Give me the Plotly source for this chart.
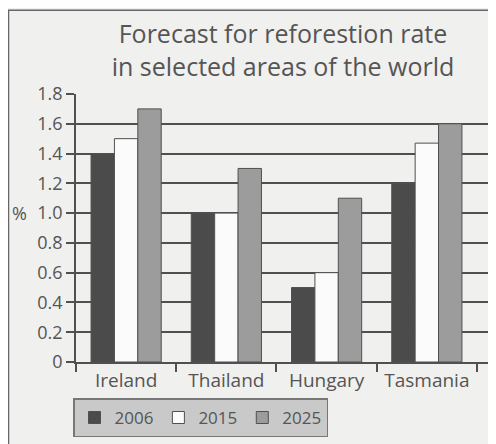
import plotly.graph_objects as go

categories = ["Ireland", "Thailand", "Hungary", "Tasmania"]
years = ["2006", "2015", "2025"]
values_2006 = [1.4, 1.0, 0.5, 1.2]
values_2015 = [1.5, 1.0, 0.6, 1.47]
values_2025 = [1.7, 1.3, 1.1, 1.6]
y_ticks = [0, 0.2, 0.4, 0.6, 0.8, 1.0, 1.2, 1.4, 1.6, 1.8]
y_tick_text = ["0", "0.2", "0.4", "0.6", "0.8", "1.0", "1.2", "1.4", "1.6", "1.8"]
y_unit = "%"

series = [values_2006, values_2015, values_2025]
colors = ["#4b4b4b", "#fbfbfb", "#9c9c9c"]
line_col = "#505050"
text_col = "#555555"
FONT = "Open Sans, Liberation Sans, Arial, sans-serif"

# page body has an 8px margin, so the figure is drawn 8px in from the window edge
W, H = 488, 436
L, R, T, B = 68, 6, 86, 78
PW, PH = W - L - R, H - T - B


def px(x):
    return (x - 8 - L) / PW


def py(y):
    return (H - B - (y - 8)) / PH


fig = go.Figure()
for name, vals, col in zip(years, series, colors):
    fig.add_trace(go.Bar(
        x=categories, y=vals, name=name,
        marker=dict(color=col, line=dict(color=line_col, width=1)),
    ))

fig.update_layout(
    width=W, height=H,
    margin=dict(l=L, r=R, t=T, b=B),
    paper_bgcolor="#f0f0ef",
    plot_bgcolor="rgba(0,0,0,0)",
    barmode="group", bargap=0.3, bargroupgap=0,
    font=dict(family=FONT, color=text_col, size=16),
    title=dict(
        text="Forecast for reforestion rate<br>in selected areas of the world",
        x=(283 - 8) / W, xanchor="center", y=1 - 35 / H, yanchor="top",
        font=dict(size=25, color=text_col, family=FONT),
    ),
    xaxis=dict(
        type="category", range=[-0.5, 3.63],
        tickson="boundaries", ticks="outside", ticklen=8, tickwidth=1.5, tickcolor=line_col,
        showline=True, linecolor=line_col, linewidth=1.5,
        showgrid=False, tickfont=dict(size=19, color=text_col, family=FONT),
    ),
    yaxis=dict(
        range=[0, 1.8], tickvals=y_ticks, ticktext=y_tick_text,
        ticks="outside", ticklen=8, tickwidth=1.5, tickcolor=line_col,
        showline=True, linecolor=line_col, linewidth=1.5,
        showgrid=True, gridcolor=line_col, gridwidth=1.5,
        zeroline=False, tickfont=dict(size=18, color=text_col, family=FONT),
    ),
    legend=dict(
        orientation="h", x=px(73), xanchor="left",
        y=py(403), yanchor="top",
        bgcolor="#c9c9c9", bordercolor="#777777", borderwidth=1.5,
        font=dict(size=17, color=text_col, family=FONT), traceorder="normal",
        itemwidth=30, tracegroupgap=0,
    ),
    annotations=[
        dict(text=y_unit, xref="paper", yref="y", x=px(29), y=1.0,
             xanchor="right", yanchor="middle", showarrow=False,
             font=dict(size=18, color=text_col, family=FONT)),
    ],
    shapes=[
        dict(type="line", xref="paper", yref="paper",
             x0=px(8), x1=px(500), y0=py(9), y1=py(9),
             line=dict(color="#666666", width=1.5)),
        dict(type="line", xref="paper", yref="paper",
             x0=px(8.5), x1=px(8.5), y0=py(9), y1=py(450),
             line=dict(color="#666666", width=1.5)),
        dict(type="line", xref="paper", yref="paper",
             x0=1, x1=1, y0=0, y1=-8 / PH,
             line=dict(color=line_col, width=1.5)),
    ],
)

fig.write_html("out.html")
